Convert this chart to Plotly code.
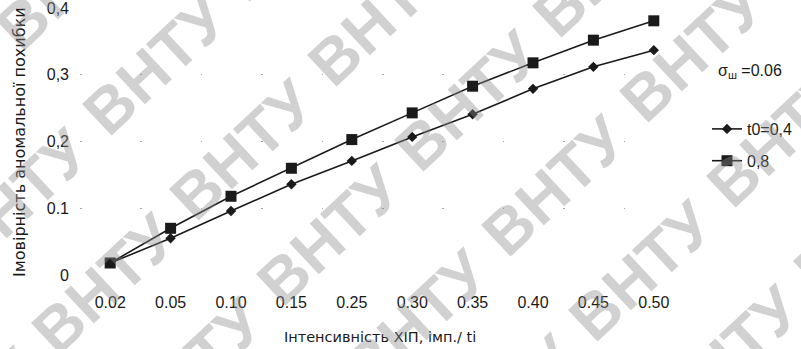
import plotly.graph_objects as go

# ---- data ----
categories = ["0.02", "0.05", "0.10", "0.15", "0.25", "0.30", "0.35", "0.40", "0.45", "0.50"]
t04_values = [0.018, 0.055, 0.096, 0.136, 0.171, 0.207, 0.241, 0.279, 0.312, 0.337]
t08_values = [0.018, 0.070, 0.118, 0.160, 0.203, 0.243, 0.283, 0.318, 0.352, 0.381]
y_tickvals = [0, 0.1, 0.2, 0.3, 0.4]
y_ticktext = ["0", "0.1", "0,2", "0,3", "0,4"]
series_names = ["t0=0,4", "0,8"]
legend_title = "σ<sub>ш</sub> =0.06"
x_title = "Інтенсивність ХІП, імп./ ti"
y_title = "Імовірність аномальної похибки"
watermark_text = "ВНТУ"

W, H = 801, 349
ML, MR, MT, MB = 80, 117, 8, 74
PW, PH = W - ML - MR, H - MT - MB
FONT = "Liberation Sans, Arial, sans-serif"
WIDE = "DejaVu Sans, Liberation Sans, sans-serif"
INK = "#1a1a1a"

def px2paper(px, py):
    return (px - ML) / PW, 1 - (py - MT) / PH

fig = go.Figure()
fig.add_trace(go.Scatter(
    x=categories, y=t04_values, name=series_names[0], mode="lines+markers",
    line=dict(color=INK, width=1.6),
    marker=dict(symbol="diamond", size=8, color=INK),
    legendgroup="a",
))
fig.add_trace(go.Scatter(
    x=categories, y=t08_values, name=series_names[1], mode="lines+markers",
    line=dict(color=INK, width=1.6),
    marker=dict(symbol="square", size=11, color=INK),
    legendgroup="b",
))

annotations = []
# axis titles
ax, ay = px2paper(380, 337)
annotations.append(dict(text=x_title, x=ax, y=ay, xref="paper", yref="paper",
                        showarrow=False, font=dict(family=WIDE, size=14.5, color=INK),
                        xanchor="center", yanchor="middle"))
ax, ay = px2paper(19, 142)
annotations.append(dict(text=y_title, x=ax, y=ay, xref="paper", yref="paper",
                        showarrow=False, textangle=-90,
                        font=dict(family=WIDE, size=16, color=INK),
                        xanchor="center", yanchor="middle"))
# legend title
ax, ay = px2paper(716, 71)
annotations.append(dict(text=legend_title, x=ax, y=ay, xref="paper", yref="paper",
                        showarrow=False, font=dict(family=FONT, size=16, color=INK),
                        xanchor="left", yanchor="middle"))

# watermark lattice
base = (155, 65)
va = (138, -134)
vp = (87, 85)
for i in range(-3, 5):
    for j in range(-3, 9):
        cx = base[0] + i * va[0] + j * vp[0]
        cy = base[1] + i * va[1] + j * vp[1]
        if -130 < cx < W + 130 and -110 < cy < H + 110:
            wx, wy = px2paper(cx, cy)
            annotations.append(dict(
                text="<b>" + watermark_text + "</b>", x=wx, y=wy,
                xref="paper", yref="paper", showarrow=False, textangle=-43,
                font=dict(family=FONT, size=63, color="rgba(140,140,140,0.40)"),
                xanchor="center", yanchor="middle"))

lx, ly = px2paper(707, 145)
fig.update_layout(
    width=W, height=H,
    margin=dict(l=ML, r=MR, t=MT, b=MB, pad=0, autoexpand=False),
    paper_bgcolor="white", plot_bgcolor="white",
    font=dict(family=FONT, size=16, color=INK),
    showlegend=True,
    legend=dict(x=lx, y=ly, xanchor="left", yanchor="middle",
                bgcolor="rgba(0,0,0,0)", tracegroupgap=8,
                font=dict(family=FONT, size=16, color=INK),
                itemwidth=30),
    annotations=annotations,
    xaxis=dict(type="category", range=[-0.5, len(categories) - 0.5],
               showgrid=False, zeroline=False, showline=False, automargin=False,
               ticks="", ticklabelstandoff=16,
               tickfont=dict(family=FONT, size=16, color=INK)),
    yaxis=dict(range=[0, 0.4002], tickvals=y_tickvals, ticktext=y_ticktext,
               showgrid=True, gridcolor="#a8a8a8", gridwidth=1.2,
               griddash="1.5px,58.9px", ticklabeloverflow="allow", automargin=False,
               zeroline=False, showline=False, ticks="", ticklabelstandoff=10,
               tickfont=dict(family=FONT, size=16, color=INK)),
)

fig.write_html("out.html", config={"displayModeBar": False},
               post_script="document.body.style.margin='0';")
